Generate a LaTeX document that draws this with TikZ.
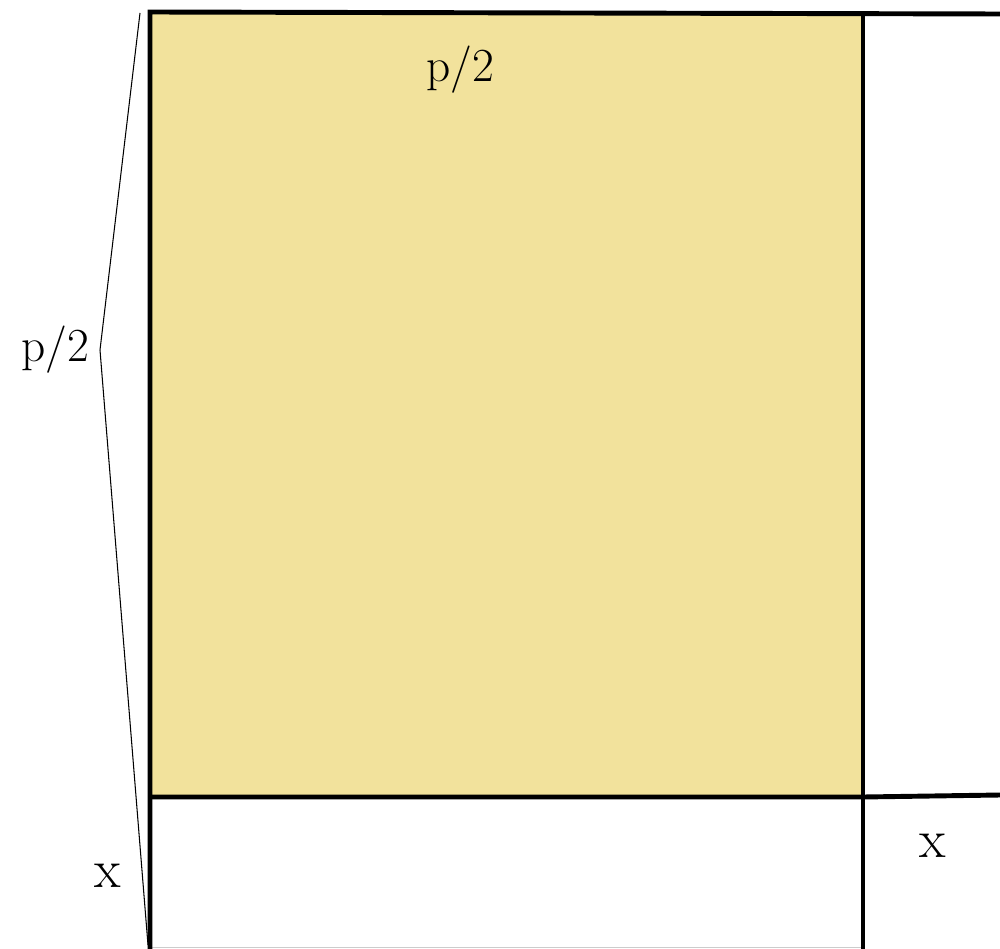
\documentclass[tikz,border=0pt]{standalone}
\usepackage{tikz}
\usetikzlibrary{positioning, calc}

\definecolor{sqfill}{RGB}{242,226,156}

\begin{document}
\begin{tikzpicture}[
  x=0.02cm, y=-0.02cm,
  side/.style={line width=2.8pt, black},
  brace/.style={line width=0.6pt, black},
  lbl/.style={inner sep=0pt, font=\fontsize{27}{29}\selectfont},
  xlbl/.style={inner sep=0pt, font=\fontsize{31}{33}\selectfont}
]
\useasboundingbox (0,0) rectangle (1000,949);
% corners of the square and the strips
\coordinate (tl) at (150,12);
\coordinate (tr) at (863,12);
\coordinate (bl) at (150,797);
\coordinate (br) at (863,797);
\coordinate (bbl) at (150,949);
\coordinate (bbr) at (863,949);
\coordinate (re) at (1000,14);
\coordinate (rm) at (1000,795);
\fill[sqfill] (tl) rectangle (br);
\draw[gray!40, line width=0.5pt] (150,947) -- (863,947);
\draw[side] (re) -- (tl) -- (bbl);
\draw[side] (tr) -- (bbr);
\draw[side] (bl) -- (br) -- (rm);
% left brace
\coordinate (btop) at (140,13);
\coordinate (btip) at (100,350);
\coordinate (bbot) at (148,945);
\draw[brace] (btop) -- (btip) -- (bbot);
% labels
\node[lbl] (ptop) at (460,70) {p/2};
\node[lbl] (pleft) at (55,350) {p/2};
\node[xlbl] (xleft) at (108,876) {x};
\node[xlbl] (xright) at (933,846) {x};
\end{tikzpicture}
\end{document}
